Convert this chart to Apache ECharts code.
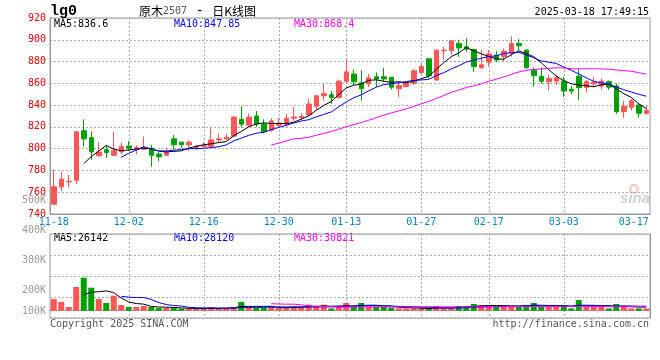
<!DOCTYPE html>
<html><head><meta charset="utf-8">
<script src="https://cdn.jsdelivr.net/npm/echarts@6/dist/echarts.min.js"></script>
<style>html,body{margin:0;padding:0;background:#fff}#c{width:660px;height:360px}</style>
</head><body><div id="c"></div>
<script>
// ---- data ----
const dates = [
 '11-18','11-19','11-20','11-21','11-22','11-25','11-26','11-27','11-28','11-29',
 '12-02','12-03','12-04','12-05','12-06','12-09','12-10','12-11','12-12','12-13',
 '12-16','12-17','12-18','12-19','12-20','12-23','12-24','12-25','12-26','12-27',
 '12-30','12-31','01-02','01-03','01-06','01-07','01-08','01-09','01-10','01-13',
 '01-14','01-15','01-16','01-17','01-20','01-21','01-22','01-23','01-24','01-27',
 '02-05','02-06','02-07','02-10','02-11','02-12','02-13','02-14','02-17','02-18',
 '02-19','02-20','02-21','02-24','02-25','02-26','02-27','02-28','03-03','03-04',
 '03-05','03-06','03-07','03-10','03-11','03-12','03-13','03-14','03-17','03-18'
];
const opens = [
 749,765,769.5,771,816.5,810,793.5,799,794,797,
 802.5,799.5,799.5,800.5,795,794,809,806,803.5,800.5,
 802,802,808,809,811.5,827,821.5,830,822.5,817,
 821.5,822.5,828,828.5,831,839,848.5,849.5,847,862,
 868.5,860.5,859.5,866,866,865.5,855,857,860,870,
 882.5,863,890,890,896.5,893.5,891,874.5,879.5,886,
 884.5,888,896.5,890.5,872,866.5,861.5,862,862,854.5,
 866.5,856,859.5,857.5,861.5,857.5,834,838,840,832.5
];
const closes = [
 765,772,770,815.5,809,797,797,796.5,798,802,
 800.5,801,801,794,792.5,796.5,803.5,803.5,806,802,
 803,808,809,810.5,829,822.5,829,822.5,815.5,825.5,
 823.5,828,829,829.5,841,848.5,850.5,847,862,870.5,
 861.5,855,865,864,864,856.5,858,860,871.5,875.5,
 867,890.5,890.5,899,892.5,891.5,875.5,877,887,881.5,
 889.5,896.5,894.5,874.5,867,862,864.5,865.5,853,853,
 856,861.5,861,862,856.5,834,839,844,832.5,835
];
const lows = [
 749,761,764.5,767.5,802,789.5,792.5,791.5,793.5,795,
 798,795,799,783.5,788.5,793.5,799.5,800.5,798,799,
 801,801,806,808,811,819.5,820,820,814,815.5,
 820,820,825.5,826,830,835.5,844,841,846,860.5,
 858.5,844,856.5,857,861,854.5,847.5,856.5,858.5,868.5,
 864.5,862.5,881.5,886,884.5,889,870.5,873,875.5,879.5,
 880,884.5,890,873,857,859.5,854,858.5,847.5,850,
 844.5,851.5,856.5,854.5,854,832,828.5,835,828.5,831
];
const highs = [
 780.5,779,776,815.5,827,816,806,803.5,815.5,805.5,
 807,803,811,803.5,797,801,812.5,806,807.5,803.5,
 806,820,814,813.5,829.5,839,832,834.5,827,828,
 828,832,838,832.5,846,849.5,860,853,863.5,882,
 873,872,868.5,870,874,866,861.5,861.5,873,878.5,
 883,891,893.5,899,900,901.5,892,890.5,890.5,889.5,
 892,903,900.5,891,874.5,874.5,867.5,867.5,866,857.5,
 874,863,866,864.5,862.5,860,844,845.5,842,839
];
const volumes = [
 81900,60900,25900,165900,231000,161000,81900,53900,105000,39900,
 25900,25900,32900,25900,18900,18900,18900,14000,14000,11900,
 14000,25900,18900,18900,25900,60900,25900,18900,18900,28000,
 21000,21000,28000,21000,42000,35000,42000,16100,28000,53900,
 28000,53900,28000,28000,28000,21000,16100,16100,16100,16100,
 11900,32900,16100,16100,32900,32900,46900,39900,32900,28000,
 32900,32900,32900,39900,53900,28000,28000,28000,39900,16100,
 74900,28000,28000,28000,16100,46900,32900,16100,16100,16100
];
const tickDates = ['11-18','12-02','12-16','12-30','01-13','01-27','02-17','03-03','03-17'];
const priceMin = 740, priceMax = 920, priceStep = 20;
const volTickLabels = ['100K','200K','300K','400K','500K'];
const maTexts = ['MA5:836.6','MA10:847.85','MA30:868.4'];
const volMaTexts = ['MA5:26142','MA10:28120','MA30:30821'];
const headerTitle = ['原木','2507',' - ','日K线图'];
const symbolText = 'lg0';
const timeText = '2025-03-18 17:49:15';
const footLeft = 'Copyright 2025 SINA.COM';
const footRight = 'http://finance.sina.com.cn';

// ---- helpers ----
function movingAvg(arr, n) {
  return arr.map((_, i) => {
    if (i < n - 1) return '-';
    let s = 0;
    for (let k = i - n + 1; k <= i; k++) s += arr[k];
    return +(s / n).toFixed(2);
  });
}
const UP = '#ff5555', DOWN = '#00a000';
const MONO = '"DejaVu Sans Mono", monospace';
const GRIDC = '#aaaaaa';
const candleData = dates.map((d, i) => [opens[i], closes[i], lows[i], highs[i]]);
const volData = volumes.map((v, i) => ({ value: v, itemStyle: { color: closes[i] >= opens[i] ? UP : DOWN } }));
const lastTick = tickDates[tickDates.length - 1];
const innerTicks = tickDates.slice(1, -1);
const volLabelPos = [132.3, 200, 300, 400, 500];

const splitX = {
  show: true,
  alignWithLabel: true,
  interval: (idx, val) => innerTicks.indexOf(dates[idx]) >= 0,
  lineStyle: { color: GRIDC, type: [2, 2], width: 1 }
};

function lineSeries(data, color, xi, yi) {
  return { type: 'line', data, xAxisIndex: xi, yAxisIndex: yi, showSymbol: false, symbol: 'none',
    lineStyle: { color, width: 1 }, itemStyle: { color }, silent: true, animation: false, z: 3 };
}
function txt(x, y, text, fill, extra) {
  return Object.assign({ type: 'text', x, y, silent: true,
    style: Object.assign({ text, fill, font: '10px ' + MONO, textVerticalAlign: 'middle', verticalAlign: 'middle' }, extra || {}) });
}

const chart = echarts.init(document.getElementById('c'), null, { renderer: 'canvas' });
chart.setOption({
  animation: false,
  backgroundColor: '#fff',
  grid: [
    { left: 50, width: 600, top: 18, height: 196, show: true, borderColor: '#999', borderWidth: 1 },
    { left: 50, width: 600, top: 234, height: 84, show: true, borderColor: '#999', borderWidth: 1 },
    { left: 50, width: 600, top: 200.7, height: 120, show: false }
  ],
  xAxis: [
    { type: 'category', gridIndex: 0, data: dates, boundaryGap: true,
      axisLine: { lineStyle: { color: '#999' } }, axisTick: { show: false },
      axisLabel: { interval: (idx, val) => tickDates.indexOf(val) >= 0, color: '#0a80d0',
        fontFamily: MONO, fontSize: 10, margin: 3,
        formatter: v => v === lastTick ? '{e|' + v + '}' : v,
        rich: { e: { padding: [0, 10, 0, 0], color: '#0a80d0', fontFamily: MONO, fontSize: 10 } } },
      splitLine: splitX },
    { type: 'category', gridIndex: 1, data: dates, boundaryGap: true,
      axisLine: { lineStyle: { color: '#999' } }, axisTick: { show: false }, axisLabel: { show: false },
      splitLine: splitX },
    { type: 'value', gridIndex: 2, min: 0, max: 1, show: false }
  ],
  yAxis: [
    { type: 'value', gridIndex: 0, min: priceMin, max: priceMax, interval: priceStep,
      axisLine: { show: true, lineStyle: { color: '#999' } }, axisTick: { show: false },
      axisLabel: { color: '#e60000', fontFamily: MONO, fontSize: 10, margin: 4 },
      splitLine: { show: true, lineStyle: { color: GRIDC, type: [2, 2] } } },
    { type: 'value', gridIndex: 1, min: -51100, max: 536900, show: false },
    { type: 'value', gridIndex: 1, min: 0, max: 4, interval: 1,
      axisLine: { show: true, lineStyle: { color: '#999' } }, axisTick: { show: false }, axisLabel: { show: false },
      splitLine: { show: true, lineStyle: { color: GRIDC, type: [2, 2] } } },
    { type: 'value', gridIndex: 2, min: 100, max: 500,
      axisLine: { show: false }, axisTick: { show: false }, splitLine: { show: false },
      axisLabel: { customValues: volLabelPos, showMinLabel: true, showMaxLabel: true,
        color: '#999', fontFamily: MONO, fontSize: 10, margin: 4,
        formatter: v => {
          let best = 0;
          volLabelPos.forEach((p, k) => { if (Math.abs(p - v) < Math.abs(volLabelPos[best] - v)) best = k; });
          return volTickLabels[best];
        } } }
  ],
  series: [
    { type: 'candlestick', xAxisIndex: 0, yAxisIndex: 0, data: candleData, barWidth: 5,
      itemStyle: { color: UP, color0: DOWN, borderColor: UP, borderColor0: DOWN, borderWidth: 1 }, z: 2 },
    lineSeries(movingAvg(closes, 5), '#000000', 0, 0),
    lineSeries(movingAvg(closes, 10), '#0000ff', 0, 0),
    lineSeries(movingAvg(closes, 30), '#ff00ff', 0, 0),
    { type: 'bar', xAxisIndex: 1, yAxisIndex: 1, data: volData, barWidth: 6, z: 2 },
    lineSeries(movingAvg(volumes, 5), '#000000', 1, 1),
    lineSeries(movingAvg(volumes, 10), '#0000ff', 1, 1),
    lineSeries(movingAvg(volumes, 30), '#ff00ff', 1, 1)
  ],
  graphic: [
    txt(50, 11, symbolText, '#000', { font: 'bold 15px "Liberation Mono", monospace' }),
    { type: 'text', x: 139, y: 11, silent: true,
      style: { text: '{a|' + headerTitle[0] + '}{b|' + headerTitle[1] + '}{c|' + headerTitle[2] + '}{a|' + headerTitle[3] + '}',
        textVerticalAlign: 'middle', verticalAlign: 'middle',
        rich: { a: { fill: '#000', fontSize: 12, fontFamily: '"Noto Sans CJK SC"' },
                b: { fill: '#555', fontSize: 10, fontFamily: MONO },
                c: { fill: '#000', fontSize: 14, fontFamily: MONO } } } },
    txt(649, 12, timeText, '#000', { textAlign: 'right', align: 'right' }),
    txt(54, 24, maTexts[0], '#000'),
    txt(174, 24, maTexts[1], '#0000ff'),
    txt(294, 24, maTexts[2], '#ff00ff'),
    txt(54, 238.5, volMaTexts[0], '#000'),
    txt(174, 238.5, volMaTexts[1], '#0000ff'),
    txt(294, 238.5, volMaTexts[2], '#ff00ff'),
    txt(50, 324, footLeft, '#555'),
    txt(649, 324, footRight, '#555', { textAlign: 'right', align: 'right' }),
    { type: 'circle', silent: true, shape: { cx: 634, cy: 189, r: 4 },
      style: { fill: 'none', stroke: 'rgba(230,90,90,0.35)', lineWidth: 2 } },
    txt(635, 199, 'sina', 'rgba(150,150,150,0.45)', { textAlign: 'center', align: 'center',
      font: 'italic bold 15px "Liberation Sans", sans-serif' })
  ]
});
</script>
</body></html>
